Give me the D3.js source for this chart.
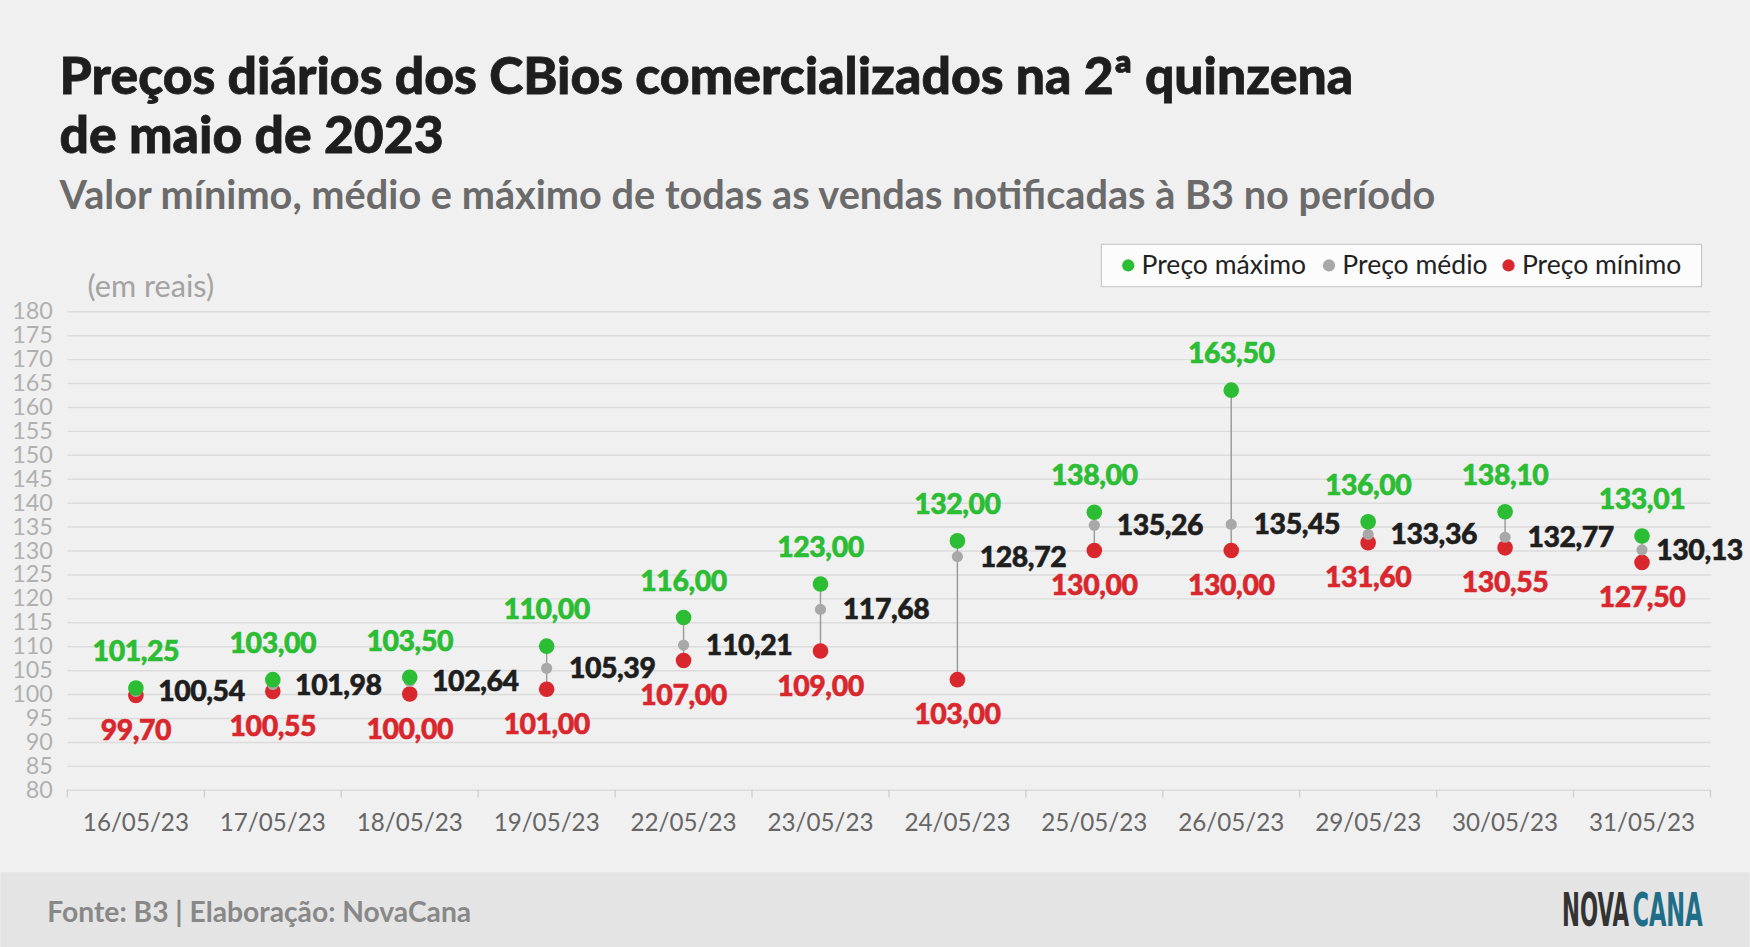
<!DOCTYPE html>
<html>
<head>
<meta charset="utf-8">
<script src="https://cdn.jsdelivr.net/npm/d3@7"></script>
<style>
  html, body { margin: 0; padding: 0; background: #f0f0f0; }
  svg { display: block; font-family: Lato, "Open Sans", sans-serif; }
</style>
</head>
<body>
<div id="chart"></div>
<script>
// data
var dates = ["16/05/23", "17/05/23", "18/05/23", "19/05/23", "22/05/23", "23/05/23",
             "24/05/23", "25/05/23", "26/05/23", "29/05/23", "30/05/23", "31/05/23"];
var maxPrice = [101.25, 103.00, 103.50, 110.00, 116.00, 123.00, 132.00, 138.00, 163.50, 136.00, 138.10, 133.01];
var avgPrice = [100.54, 101.98, 102.64, 105.39, 110.21, 117.68, 128.72, 135.26, 135.45, 133.36, 132.77, 130.13];
var minPrice = [99.70, 100.55, 100.00, 101.00, 107.00, 109.00, 103.00, 130.00, 130.00, 131.60, 130.55, 127.50];
var yTicks = d3.range(80, 181, 5);

var green = "#2bbd33", grey = "#a8a8a8", red = "#d9272e";

// drawing space is the 1568 x 849 of the reference, scaled up to the window
var W = 1568, H = 849;
var plotLeft = 60, plotRight = 1533, plotTop = 279, plotBottom = 708;

var svg = d3.select("#chart").append("svg")
    .attr("width", 1750)
    .attr("height", 947)
    .attr("viewBox", "0 0 " + W + " " + H);

svg.append("rect").attr("width", W).attr("height", H).attr("fill", "#f0f0f0");

// title block (thin stroke to get closer to the heavy weight of the original)
var title = svg.append("g").attr("font-size", 46.3).attr("font-weight", 900)
    .attr("fill", "#1e1e1e").attr("stroke", "#1e1e1e").attr("stroke-width", 0.7);
title.append("text").attr("x", 53).attr("y", 84)
    .text("Preços diários dos CBios comercializados na 2ª quinzena");
title.append("text").attr("x", 53).attr("y", 137)
    .text("de maio de 2023");
svg.append("text").attr("x", 53).attr("y", 187)
    .attr("font-size", 35.6).attr("font-weight", 700).attr("fill", "#6b6b6b")
    .text("Valor mínimo, médio e máximo de todas as vendas notificadas à B3 no período");
svg.append("text").attr("x", 78).attr("y", 266)
    .attr("font-size", 27.5).attr("fill", "#a3a3a3")
    .text("(em reais)");

// scales
var x = d3.scaleBand().domain(dates).range([plotLeft, plotRight]).padding(0);
var y = d3.scaleLinear().domain([80, 180]).range([plotBottom, plotTop]);

// y axis with gridlines
var yAxis = svg.append("g")
    .attr("transform", "translate(" + plotLeft + ",0)")
    .call(d3.axisLeft(y).tickValues(yTicks).tickSize(-(plotRight - plotLeft)).tickPadding(13));
yAxis.select(".domain").remove();
yAxis.selectAll(".tick line").attr("stroke", "#dcdcdc").attr("stroke-width", 1.3);
yAxis.selectAll(".tick text")
    .attr("font-family", "Lato, sans-serif").attr("font-size", 21).attr("fill", "#b0b0b0");

// x axis
var xAxis = svg.append("g")
    .attr("transform", "translate(0," + plotBottom + ")")
    .call(d3.axisBottom(x).tickSize(0).tickPadding(22));
xAxis.select(".domain").remove();
xAxis.selectAll(".tick text")
    .attr("font-family", "Lato, sans-serif").attr("font-size", 21.7).attr("fill", "#666");

// small ticks between categories
var bounds = dates.map(function(d) { return x(d); }).concat([plotRight]);
svg.append("g").selectAll("line")
    .data(bounds)
    .enter().append("line")
    .attr("x1", function(d) { return d; })
    .attr("x2", function(d) { return d; })
    .attr("y1", plotBottom)
    .attr("y2", plotBottom + 7)
    .attr("stroke", "#d0d0d0").attr("stroke-width", 1.3);

var rows = dates.map(function(d, i) {
    return {date: d, max: maxPrice[i], avg: avgPrice[i], min: minPrice[i]};
});
var cx = function(d) { return x(d.date) + x.bandwidth() / 2; };
var fmt = function(v) { return v.toFixed(2).replace(".", ","); };

// min-max connector
svg.append("g").selectAll("line")
    .data(rows)
    .enter().append("line")
    .attr("x1", cx).attr("x2", cx)
    .attr("y1", function(d) { return y(d.min); })
    .attr("y2", function(d) { return y(d.max); })
    .attr("stroke", "#9a9a9a").attr("stroke-width", 1.3);

// dots: red, then grey, then green on top
var dots = svg.append("g");
dots.selectAll(".min").data(rows).enter().append("circle")
    .attr("class", "min").attr("cx", cx).attr("cy", function(d) { return y(d.min); })
    .attr("r", 7).attr("fill", red);
dots.selectAll(".avg").data(rows).enter().append("circle")
    .attr("class", "avg").attr("cx", cx).attr("cy", function(d) { return y(d.avg); })
    .attr("r", 5).attr("fill", grey);
dots.selectAll(".max").data(rows).enter().append("circle")
    .attr("class", "max").attr("cx", cx).attr("cy", function(d) { return y(d.max); })
    .attr("r", 7).attr("fill", green);

// value labels
var labels = svg.append("g").attr("font-size", 25.5).attr("font-weight", 900)
    .attr("letter-spacing", -0.4).attr("stroke-width", 0.5);
labels.selectAll(".lmax").data(rows).enter().append("text")
    .attr("x", cx).attr("y", function(d) { return y(d.max) - 24; })
    .attr("text-anchor", "middle").attr("fill", green).attr("stroke", green)
    .text(function(d) { return fmt(d.max); });
labels.selectAll(".lavg").data(rows).enter().append("text")
    .attr("y", function(d) { return y(d.avg) + 9; })
    .attr("fill", "#1e1e1e").attr("stroke", "#1e1e1e")
    .text(function(d) { return fmt(d.avg); })
    .attr("x", function(d) {
        // last one is pulled in so it stays inside the picture
        return Math.min(cx(d) + 20, W - 6 - this.getComputedTextLength());
    });
labels.selectAll(".lmin").data(rows).enter().append("text")
    .attr("x", cx).attr("y", function(d) { return y(d.min) + 40; })
    .attr("text-anchor", "middle").attr("fill", red).attr("stroke", red)
    .text(function(d) { return fmt(d.min); });

// legend
var legendItems = [
    {name: "Preço máximo", color: green, x: 1011},
    {name: "Preço médio", color: grey, x: 1191},
    {name: "Preço mínimo", color: red, x: 1352}
];
var legend = svg.append("g");
legend.append("rect")
    .attr("x", 987).attr("y", 219).attr("width", 538).attr("height", 38)
    .attr("fill", "#fcfcfc").attr("stroke", "#c8c8c8").attr("stroke-width", 1);
var li = legend.selectAll("g").data(legendItems).enter().append("g");
li.append("circle").attr("cx", function(d) { return d.x; }).attr("cy", 238).attr("r", 5.5)
    .attr("fill", function(d) { return d.color; });
li.append("text").attr("x", function(d) { return d.x + 12; }).attr("y", 246)
    .attr("font-size", 23.8).attr("fill", "#222")
    .text(function(d) { return d.name; });

// footer
svg.append("rect").attr("x", 0).attr("y", 782).attr("width", W).attr("height", H - 782)
    .attr("fill", "#e4e4e4");
svg.append("text").attr("x", 42).attr("y", 827)
    .attr("font-size", 25.3).attr("font-weight", 700).attr("fill", "#888")
    .text("Fonte: B3 | Elaboração: NovaCana");

// logo: two condensed words, squeezed horizontally to fit their box
var logoParts = [
    {text: "NOVA", color: "#333", x: 1400, w: 60},
    {text: "CANA", color: "#1f6e88", x: 1463, w: 63}
];
logoParts.forEach(function(p) {
    var t = svg.append("text")
        .attr("font-family", "'Liberation Sans Narrow', 'DejaVu Sans Condensed', sans-serif")
        .attr("font-size", 41).attr("font-weight", 700).attr("fill", p.color)
        .text(p.text);
    var len = t.node().getComputedTextLength();
    t.attr("transform", "translate(" + p.x + ",830) scale(" + (p.w / len) + ",1)");
});
</script>
</body>
</html>
